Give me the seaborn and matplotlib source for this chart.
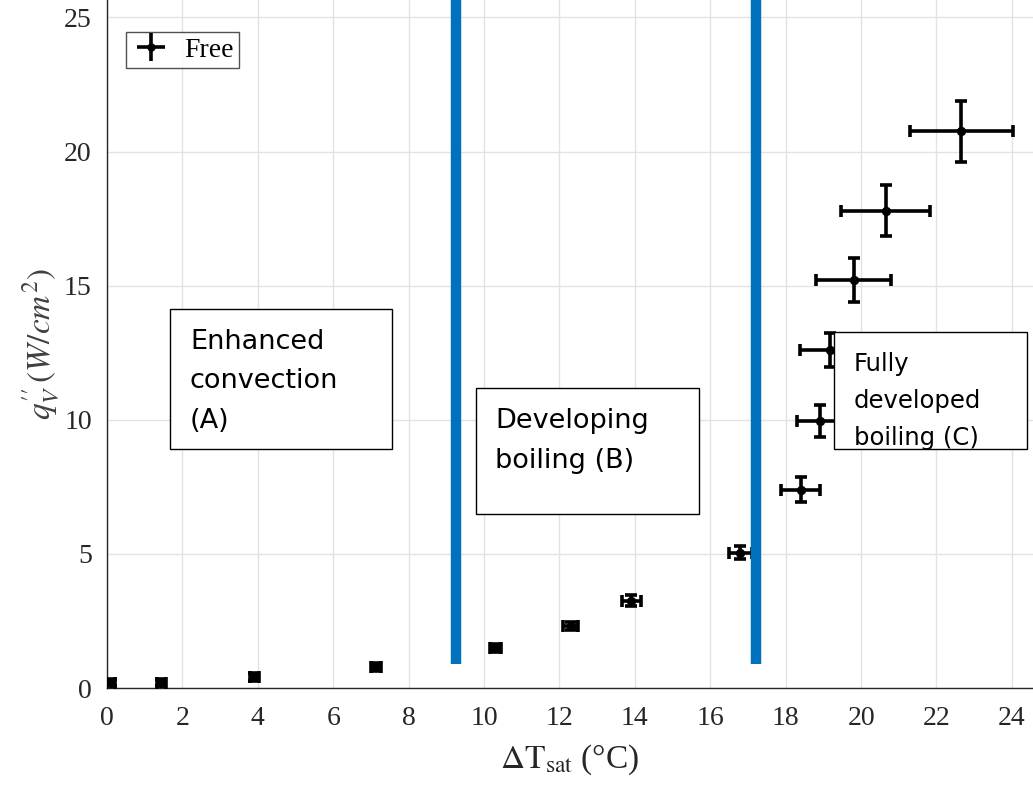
import matplotlib
matplotlib.use("Agg")
import matplotlib.pyplot as plt
import seaborn as sns
import pandas as pd
from matplotlib.patches import Rectangle

# ---- data ----
dT_sat = [0.1, 1.44, 3.9, 7.13, 10.3, 12.3, 13.9, 16.8, 18.4, 18.9, 19.17, 19.8, 20.66, 22.66]
q_v = [0.2, 0.2, 0.4, 0.8, 1.5, 2.3, 3.25, 5.05, 7.4, 9.95, 12.6, 15.2, 17.8, 20.75]
x_err = [0.12, 0.12, 0.12, 0.13, 0.15, 0.2, 0.25, 0.3, 0.52, 0.6, 0.8, 1.0, 1.18, 1.36]
y_err = [0.12, 0.12, 0.15, 0.15, 0.15, 0.15, 0.2, 0.25, 0.47, 0.6, 0.65, 0.82, 0.95, 1.14]
boundaries = [9.25, 17.2]
boundary_ymin = 0.9
region_labels = ["Enhanced\nconvection\n(A)", "Developing\nboiling (B)", "Fully\ndeveloped\nboiling (C)"]
region_boxes = [(1.68, 8.92, 5.87, 5.22), (9.78, 6.49, 5.91, 4.70), (19.28, 8.92, 5.13, 4.36)]
region_font = [19.5, 19.5, 17.5]
x_ticks = list(range(0, 25, 2))
y_ticks = [0, 5, 10, 15, 20, 25]
series_name = "Free"

df = pd.DataFrame({"dT": dT_sat, "q": q_v})

sns.set_theme(style="whitegrid")
plt.rcParams["font.family"] = ["Liberation Serif", "DejaVu Serif"]
plt.rcParams["mathtext.fontset"] = "stix"

fig = plt.figure(figsize=(10.33, 7.92), dpi=100)
ax = fig.add_axes([0.1036, 0.1313, 0.8964, 0.8687])

ax.set_xlim(0, 24.56)
ax.set_ylim(0, 25.65)

# error bars
ax.errorbar(dT_sat, q_v, xerr=x_err, yerr=y_err, fmt="none", ecolor="black",
            elinewidth=2.6, capsize=4, capthick=2.6, zorder=3)
sns.scatterplot(data=df, x="dT", y="q", ax=ax, color="black", s=45, edgecolor="black",
                linewidth=0, zorder=4, legend=False)

# legend handle
leg_eb = ax.errorbar([], [], xerr=[], yerr=[], fmt="o", color="black", markersize=5,
                     elinewidth=2.6, capsize=4, capthick=2.6, label=series_name)
leg = ax.legend(handles=[leg_eb], loc="upper left", bbox_to_anchor=(0.0205, 0.954),
                frameon=True, fancybox=False, edgecolor="#262626", fontsize=20,
                handlelength=1.4, borderpad=0.2, handletextpad=0.5, borderaxespad=0)
leg.get_frame().set_linewidth(1.0)
for t in leg.get_texts():
    t.set_color("black")

# boundary lines
for b in boundaries:
    ax.vlines(b, boundary_ymin, 27, color="#0072BD", linewidth=7.5, zorder=5, clip_on=False)

# region boxes
for (bx, by, bw, bh), lab, fs in zip(region_boxes, region_labels, region_font):
    ax.add_patch(Rectangle((bx, by), bw, bh, facecolor="white", edgecolor="black",
                           linewidth=1.0, zorder=6, clip_on=False))
    ax.text(bx + 0.52, by + bh - 0.75, lab, ha="left", va="top", fontsize=fs,
            family=["DejaVu Sans"], color="black", linespacing=1.68, zorder=7)

ax.set_xticks(x_ticks)
ax.set_yticks(y_ticks)
ax.tick_params(axis="both", labelsize=20, colors="#262626", direction="in", length=5,
               width=0.8)
ax.tick_params(axis="x", pad=13)
ax.tick_params(axis="y", pad=11)
ax.grid(True, color="#e3e3e3", linewidth=1.0)
ax.set_axisbelow(True)
for side in ["top", "right"]:
    ax.spines[side].set_visible(False)
for side in ["left", "bottom"]:
    ax.spines[side].set_visible(True)
    ax.spines[side].set_color("#262626")
    ax.spines[side].set_linewidth(1.0)

ax.set_xlabel(r"$\Delta\mathrm{T}_{\mathrm{sat}}$ (°C)", fontsize=24, color="#262626", labelpad=8)
ax.set_ylabel(r"$q^{\prime\prime}_V\,(W/cm^2)$", fontsize=24, color="#404040", labelpad=2)

fig.savefig("out.png", dpi=100)
